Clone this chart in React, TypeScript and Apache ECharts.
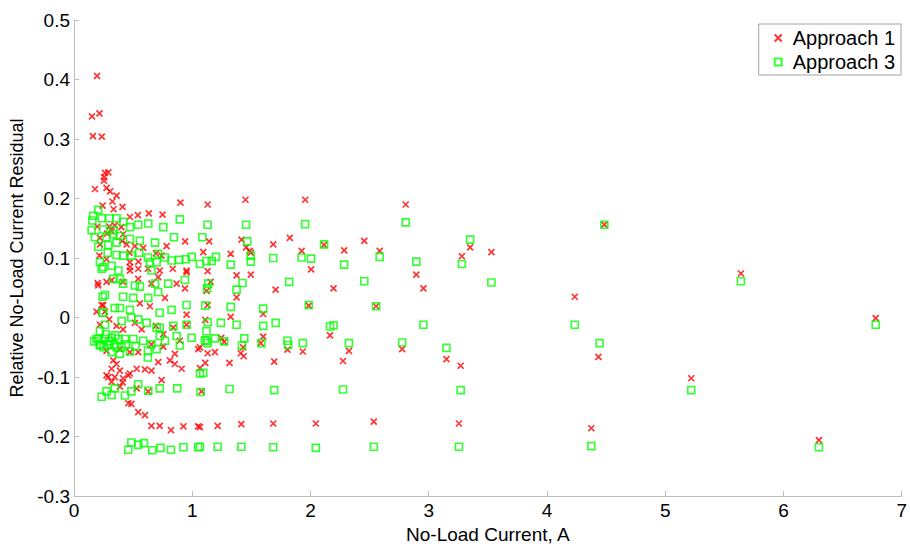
import React, { useEffect, useRef } from "react";
import * as echarts from "echarts";

const seriesNames = ["Approach 1", "Approach 3"];
const xTicks = { min: 0, max: 7, interval: 1 };
const yTicks = { min: -0.3, max: 0.5, interval: 0.1 };

// Approach 1: [no-load current (A), relative residual]
const approach1: number[][] = [
  [0.195, 0.406], [0.152, 0.338], [0.215, 0.343], [0.16, 0.305], [0.235, 0.304],
  [0.177, 0.216], [0.255, 0.236], [0.262, 0.243], [0.29, 0.244], [0.253, 0.23],
  [0.275, 0.218], [0.305, 0.212], [0.36, 0.205], [0.242, 0.188], [0.325, 0.195],
  [0.335, 0.182], [0.41, 0.186], [0.473, 0.169], [0.54, 0.172], [0.633, 0.175],
  [0.749, 0.173], [0.9, 0.193], [1.13, 0.19], [1.45, 0.198], [1.955, 0.198],
  [0.197, 0.153], [0.298, 0.153], [0.345, 0.155], [0.4, 0.152], [0.415, 0.14],
  [0.28, 0.141], [0.318, 0.145], [0.94, 0.128], [1.143, 0.128], [1.417, 0.131],
  [1.685, 0.123], [1.825, 0.134], [1.925, 0.112], [0.783, 0.12], [0.445, 0.123],
  [0.515, 0.12], [0.585, 0.117], [0.693, 0.108], [1.093, 0.11], [1.325, 0.107],
  [1.485, 0.112], [0.219, 0.134], [0.219, 0.123], [0.215, 0.104], [0.275, 0.098],
  [0.408, 0.129], [0.47, 0.109], [0.473, 0.093], [0.545, 0.094], [0.625, 0.082],
  [0.473, 0.079], [0.725, 0.079], [0.835, 0.082], [0.952, 0.079], [0.741, 0.104],
  [2.805, 0.19], [2.115, 0.122], [2.285, 0.113], [2.455, 0.129], [2.585, 0.112],
  [2.005, 0.081], [2.195, 0.049], [2.895, 0.072], [2.955, 0.049], [3.28, 0.103],
  [3.35, 0.118], [3.53, 0.11], [4.485, 0.156], [4.235, 0.035], [1.985, 0.02],
  [2.555, 0.019], [2.165, -0.03], [1.935, -0.057], [2.325, -0.056], [2.275, -0.073],
  [2.775, -0.053], [3.15, -0.07], [3.27, -0.081], [4.435, -0.066], [2.045, -0.178],
  [2.535, -0.175], [3.255, -0.178], [4.375, -0.186], [5.64, 0.074], [6.78, -0.001],
  [5.22, -0.102], [6.3, -0.206],
  [1.455, 0.118], [1.495, 0.109], [1.13, 0.078], [1.375, 0.071], [1.495, 0.072],
  [1.155, 0.06], [1.705, 0.047], [1.121, 0.045], [1.375, 0.034], [1.13, 0.021],
  [1.11, -0.004], [1.325, 0.001], [1.6, 0.006], [1.245, -0.034], [1.6, -0.032],
  [1.27, -0.041], [1.58, -0.043], [1.065, -0.05], [1.13, -0.06], [1.192, -0.058],
  [1.41, -0.06], [1.435, -0.065], [1.43, -0.05], [1.805, -0.054], [1.11, -0.076],
  [1.315, -0.076], [1.693, -0.074], [1.079, -0.124], [1.065, -0.184], [1.215, -0.182],
  [1.415, -0.179], [1.685, -0.178],
  [0.205, 0.054], [0.275, 0.06], [0.318, 0.063], [0.415, 0.06], [0.543, 0.065],
  [0.655, 0.057], [0.712, 0.068], [0.868, 0.057], [0.952, 0.076], [0.473, 0.085],
  [0.543, 0.082], [0.769, 0.033], [0.642, 0.019], [0.557, 0.024], [0.247, 0.021],
  [0.262, 0.01], [0.298, -0.003], [0.219, -0.012], [0.36, -0.014], [0.415, -0.02],
  [0.515, -0.009], [0.572, -0.02], [0.693, -0.014], [0.755, -0.028], [0.952, 0.005],
  [0.952, -0.012], [0.84, -0.017], [0.895, -0.039], [0.655, -0.045], [0.755, -0.049],
  [1.05, -0.053], [0.275, -0.056], [0.388, -0.053], [0.473, -0.058], [0.543, -0.058],
  [0.712, -0.075], [0.811, -0.072], [0.853, -0.078], [0.91, -0.086], [0.332, -0.072],
  [0.36, -0.078], [0.318, -0.086], [0.388, -0.089], [0.275, -0.097], [0.345, -0.1],
  [0.415, -0.102], [0.473, -0.094], [0.53, -0.086], [0.6, -0.087], [0.655, -0.089],
  [0.741, -0.105], [0.318, -0.108], [0.411, -0.109],
  [0.29, -0.1], [0.459, -0.097], [0.388, -0.116], [0.53, -0.119], [0.628, -0.124],
  [0.459, -0.144], [0.485, -0.145], [0.543, -0.159], [0.6, -0.164], [0.655, -0.182],
  [0.725, -0.182], [0.82, -0.189], [0.925, -0.183], [1.05, -0.183],
  [0.2, 0.058], [0.191, 0.01], [0.234, 0.021], [1.065, -0.085], [0.853, -0.061],
  [0.938, 0.049],
];

// Approach 3: [no-load current (A), relative residual]
const approach3: number[][] = [
  [4.485, 0.156], [5.64, 0.061], [6.78, -0.012], [5.22, -0.122], [6.3, -0.218],
  [4.445, -0.043],
  [1.955, 0.157], [2.805, 0.16], [3.35, 0.131], [2.115, 0.123], [1.925, 0.101],
  [2.005, 0.099], [2.285, 0.089], [2.585, 0.102], [2.895, 0.094], [3.28, 0.09],
  [2.455, 0.061], [3.53, 0.059], [1.985, 0.021], [2.555, 0.019], [2.165, -0.015],
  [2.195, -0.013], [2.955, -0.012], [4.235, -0.012], [1.935, -0.043], [2.325, -0.043],
  [2.775, -0.042], [3.15, -0.051], [2.275, -0.121], [3.27, -0.122], [2.045, -0.219],
  [2.535, -0.217], [3.255, -0.217], [4.375, -0.216],
  [1.13, 0.156], [1.455, 0.156], [1.085, 0.135], [1.465, 0.128], [1.2, 0.102],
  [1.165, 0.095], [1.065, 0.09], [1.325, 0.089], [1.495, 0.104], [1.495, 0.094],
  [1.685, 0.1], [1.425, 0.058], [1.375, 0.047], [1.135, 0.057], [1.125, 0.049],
  [1.82, 0.06], [1.11, 0.02], [1.325, 0.018], [1.6, 0.015],
  [1.13, -0.008], [1.242, -0.009], [1.375, -0.012], [1.6, -0.014], [1.705, -0.009],
  [1.121, -0.023], [1.107, -0.038], [1.13, -0.043], [1.192, -0.035], [1.27, -0.04],
  [1.44, -0.035], [1.42, -0.047], [1.585, -0.043], [1.805, -0.039], [1.811, -0.046],
  [1.093, -0.093], [1.315, -0.12], [1.693, -0.122], [1.071, -0.125], [1.065, -0.217],
  [1.215, -0.217], [1.415, -0.217], [1.685, -0.218],
  [0.205, 0.181], [0.163, 0.171], [0.234, 0.167], [0.298, 0.167], [0.36, 0.167],
  [0.417, 0.161], [0.473, 0.152], [0.543, 0.156], [0.628, 0.158], [0.755, 0.152],
  [0.895, 0.165], [0.149, 0.147], [0.247, 0.148], [0.332, 0.147], [0.177, 0.135],
  [0.275, 0.135], [0.332, 0.14], [0.388, 0.137], [0.473, 0.132], [0.557, 0.129],
  [0.685, 0.126], [0.845, 0.135], [0.205, 0.119], [0.29, 0.122], [0.36, 0.126],
  [0.285, 0.109], [0.36, 0.105], [0.415, 0.104], [0.485, 0.104], [0.552, 0.109],
  [0.625, 0.101], [0.712, 0.107], [0.769, 0.101], [0.825, 0.096], [0.89, 0.097],
  [0.945, 0.098], [0.995, 0.102], [1.121, 0.095], [0.219, 0.093], [0.247, 0.085],
  [0.318, 0.087], [0.375, 0.079], [0.642, 0.093], [0.655, 0.079], [0.699, 0.093],
  [0.234, 0.082], [0.332, 0.065], [0.388, 0.065], [0.415, 0.057], [0.515, 0.054],
  [0.557, 0.052], [0.685, 0.057], [0.797, 0.057], [0.938, 0.063], [0.262, 0.038],
  [0.415, 0.035], [0.501, 0.033], [0.628, 0.033], [0.712, 0.043], [0.952, 0.021],
  [0.345, 0.016], [0.388, 0.016], [0.473, 0.013], [0.725, 0.008], [0.825, 0.013],
  [0.247, 0.008], [0.485, 0.0], [0.543, -0.003], [0.614, -0.009], [0.699, -0.017],
  [0.725, -0.017], [0.84, -0.014], [0.952, -0.012], [0.403, -0.006], [0.262, -0.012],
  [0.219, -0.023], [0.205, -0.036], [0.262, -0.036], [0.318, -0.034], [0.375, -0.036],
  [0.431, -0.036], [0.501, -0.036], [0.585, -0.039], [0.655, -0.045], [0.725, -0.031],
  [0.769, -0.039], [0.868, -0.031], [0.895, -0.047], [0.995, -0.034], [1.121, -0.039],
  [0.219, -0.047], [0.29, -0.045], [0.36, -0.05], [0.473, -0.057], [0.625, -0.067],
  [0.625, -0.056], [0.318, -0.058], [0.388, -0.061], [0.699, -0.053], [1.065, -0.094],
  [0.234, -0.133], [0.275, -0.124], [0.318, -0.13], [0.345, -0.119], [0.431, -0.131],
  [0.485, -0.124], [0.543, -0.112], [0.628, -0.123], [0.725, -0.119], [0.873, -0.119],
  [0.459, -0.222], [0.485, -0.21], [0.543, -0.214], [0.591, -0.211], [0.662, -0.223],
  [0.732, -0.219], [0.82, -0.222], [0.925, -0.218], [1.05, -0.218],
  [0.242, 0.035], [0.242, 0.008], [0.191, -0.036], [0.219, -0.045], [0.155, 0.163],
  [0.17, -0.04], [0.25, -0.05], [0.3, -0.04], [0.34, -0.045], [0.4, -0.05],
  [0.44, -0.045], [0.52, -0.048], [0.27, -0.028], [0.35, -0.03],
];

const FONT = "'Liberation Sans', Arial, Helvetica, sans-serif";
const CROSS = "path://M0,0L10,10M10,0L0,10";

export default function App() {
  const ref = useRef<HTMLDivElement>(null);
  useEffect(() => {
    if (!ref.current) return;
    const chart = echarts.init(ref.current, undefined, { renderer: "svg" });
    const lineStyle = { color: "#bdbdbd", width: 1 };
    chart.setOption({
      animation: false,
      backgroundColor: "#fff",
      grid: { left: 74, right: 6, top: 20, bottom: 44, containLabel: false },
      legend: {
        orient: "vertical",
        right: 9,
        top: 24,
        padding: [4, 6, 3, 15],
        itemGap: 4,
        itemWidth: 7,
        itemHeight: 7,
        symbolKeepAspect: true,
        borderColor: "#a0a0a0",
        borderWidth: 1,
        backgroundColor: "#fff",
        textStyle: { fontFamily: FONT, fontSize: 20, color: "#000", padding: [0, 0, 0, 6] },
        data: seriesNames,
      },
      xAxis: {
        type: "value",
        min: xTicks.min,
        max: xTicks.max,
        interval: xTicks.interval,
        name: "No-Load Current, A",
        nameLocation: "middle",
        nameGap: 24,
        nameTextStyle: { fontFamily: FONT, fontSize: 19, color: "#000" },
        axisLine: { show: true, onZero: false, lineStyle },
        axisTick: { show: true, inside: true, length: 5, lineStyle },
        splitLine: { show: false },
        axisLabel: { fontFamily: FONT, fontSize: 19, color: "#000", margin: 5 },
      },
      yAxis: {
        type: "value",
        min: yTicks.min,
        max: yTicks.max,
        interval: yTicks.interval,
        name: "Relative No-Load Current Residual",
        nameLocation: "middle",
        nameGap: 40,
        nameTextStyle: { fontFamily: FONT, fontSize: 18, color: "#000" },
        axisLine: { show: true, onZero: false, lineStyle },
        axisTick: { show: true, inside: true, length: 5, lineStyle },
        splitLine: { show: false },
        axisLabel: {
          fontFamily: FONT,
          fontSize: 19,
          color: "#000",
          margin: 4,
          formatter: (v: number) => String(Number(v.toFixed(1))),
        },
      },
      series: [
        {
          name: seriesNames[0],
          type: "scatter",
          data: approach1,
          symbol: CROSS,
          symbolSize: 6,
          symbolKeepAspect: true,
          itemStyle: { color: "#ff0000", borderColor: "#ff0000", borderWidth: 1.7 },
        },
        {
          name: seriesNames[1],
          type: "scatter",
          data: approach3,
          symbol: "rect",
          symbolSize: 7,
          symbolKeepAspect: true,
          itemStyle: { color: "rgba(0,0,0,0)", borderColor: "#00ff00", borderWidth: 1.6 },
        },
      ],
    });
    return () => chart.dispose();
  }, []);
  return <div ref={ref} style={{ width: 910, height: 549, position: "absolute", left: 0, top: 0 }} />;
}
